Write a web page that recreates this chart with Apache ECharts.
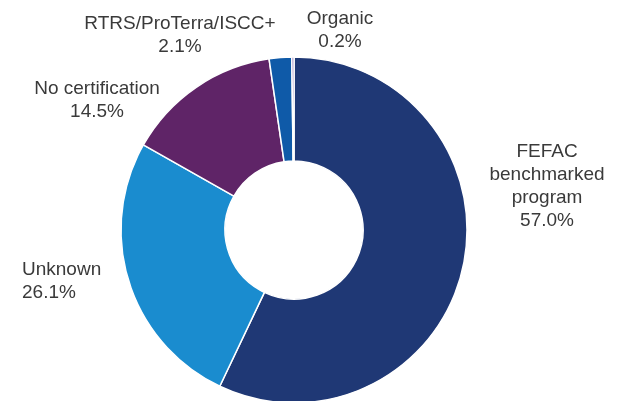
<!DOCTYPE html>
<html>
<head>
<meta charset="utf-8">
<script src="https://cdn.jsdelivr.net/npm/echarts@6/dist/echarts.min.js"></script>
<style>
  html, body { margin: 0; padding: 0; background: #fff; }
  #chart { width: 623px; height: 401px; }
</style>
</head>
<body>
<div id="chart"></div>
<script>
const names = ["FEFAC\nbenchmarked\nprogram", "Unknown", "No certification", "RTRS/ProTerra/ISCC+", "Organic"];
const shares = [57.0, 26.1, 14.5, 2.1, 0.2];
const colors = ["#1f3875", "#1a8ccf", "#5f2467", "#0f5aa8", "#7a5aa6"];

// where each label sits (x, y, alignment)
const labelSpots = [
  { x: 547, y: 186, align: "center" },
  { x: 22, y: 281, align: "left" },
  { x: 97, y: 100, align: "center" },
  { x: 180, y: 35, align: "center" },
  { x: 340, y: 30, align: "center" }
];

const chart = echarts.init(document.getElementById("chart"));

const option = {
  animation: false,
  series: [
    {
      type: "pie",
      center: [294, 230],
      radius: [69, 173],
      startAngle: 90,
      clockwise: true,
      itemStyle: { borderColor: "#fff", borderWidth: 1.5 },
      label: {
        show: true,
        position: "outside",
        alignTo: "none",
        overflow: "none",
        width: 250,
        color: "#3a3a3a",
        fontFamily: "Liberation Sans",
        fontSize: 19,
        lineHeight: 23,
        formatter: (p) => p.name + "\n" + p.value.toFixed(1) + "%"
      },
      labelLine: { show: false },
      labelLayout: (params) => {
        const s = labelSpots[params.dataIndex];
        return { x: s.x, y: s.y, align: s.align, verticalAlign: "middle" };
      },
      data: names.map((n, i) => ({
        name: n,
        value: shares[i],
        itemStyle: { color: colors[i] },
        label: { align: labelSpots[i].align }
      }))
    }
  ]
};

option && chart.setOption(option);
</script>
</body>
</html>
